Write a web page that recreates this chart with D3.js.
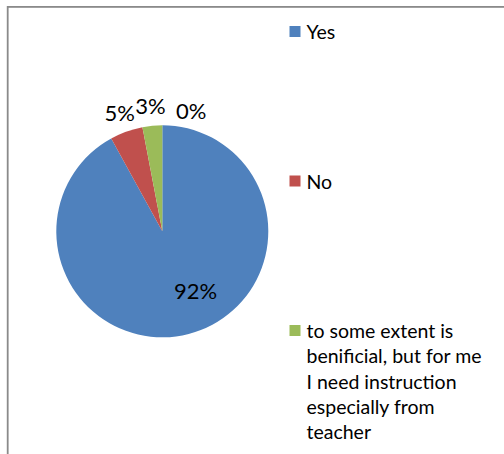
<!DOCTYPE html>
<html>
<head>
<meta charset="utf-8">
<script src="https://cdn.jsdelivr.net/npm/d3@7"></script>
<style>
  html, body { margin: 0; padding: 0; background: #fff; }
  svg { display: block; font-family: Lato, "Open Sans", sans-serif; }
</style>
</head>
<body>
<svg id="chart" width="504" height="454"></svg>
<script>
// Survey answers and their shares (percent)
const categories = [
  "Yes",
  "No",
  "to some extent is benificial, but for me I need instruction especially from teacher",
  ""
];
const values = [92, 5, 3, 0];
const colors = ["#4F81BD", "#C0504D", "#9BBB59", "#8064A2"];

const svg = d3.select("#chart");
const W = 504, H = 454;

// chart area frame
svg.append("rect")
  .attr("x", 7.7).attr("y", 6.9)
  .attr("width", W + 20).attr("height", H + 20)
  .attr("fill", "#fff")
  .attr("stroke", "#8a8a8a")
  .attr("stroke-width", 1.8);

const cx = 162.3, cy = 231.3, R = 106;
const data = categories.map((c, i) => ({ name: c, value: values[i], color: colors[i] }));

const pie = d3.pie().sort(null).value(d => d.value);
const arcs = pie(data);
const arc = d3.arc().innerRadius(0).outerRadius(R);
const labelArc = d3.arc().innerRadius(R + 20).outerRadius(R + 20);
const total = d3.sum(values);
const pct = v => Math.round(v / total * 100) + "%";

const g = svg.append("g").attr("transform", `translate(${cx},${cy})`);

g.selectAll("path.slice")
  .data(arcs)
  .join("path")
  .attr("class", "slice")
  .attr("d", arc)
  .attr("fill", d => d.data.color);

// data labels: the large slice is labelled inside, the small ones outside
g.selectAll("text.lbl")
  .data(arcs)
  .join("text")
  .attr("class", "lbl")
  .attr("text-anchor", "middle")
  .attr("dominant-baseline", "central")
  .attr("font-size", 22)
  .attr("fill", "#000")
  .attr("transform", d => {
    let p;
    if (d.data.value / total > 0.5) {
      p = arc.centroid(d);
      p = [p[0] + 20, p[1] + 8];
    } else {
      p = labelArc.centroid(d);
      if (d.data.value === 0) p = [p[0] + 29, p[1] + 5];
    }
    return `translate(${p[0]},${p[1]})`;
  })
  .text(d => pct(d.data.value));

// legend
const legend = svg.append("g").attr("transform", "translate(289.5,0)");
const itemTop = [26, 175.5, 325, 474.5];
const maxW = 180, lineH = 25.3;

data.forEach((d, i) => {
  const item = legend.append("g").attr("transform", `translate(0,${itemTop[i]})`);
  item.append("rect")
    .attr("width", 11).attr("height", 11)
    .attr("fill", d.color);
  const t = item.append("text")
    .attr("x", 17)
    .attr("y", 13)
    .attr("font-size", 19.5)
    .attr("fill", "#000");
  // word wrap into the legend column
  const words = d.name.split(" ");
  let line = [];
  let tspan = t.append("tspan").attr("x", 17).attr("dy", 0);
  words.forEach(w => {
    line.push(w);
    tspan.text(line.join(" "));
    if (tspan.node().getComputedTextLength() > maxW && line.length > 1) {
      line.pop();
      tspan.text(line.join(" "));
      line = [w];
      tspan = t.append("tspan").attr("x", 17).attr("dy", lineH).text(w);
    }
  });
});
</script>
</body>
</html>
